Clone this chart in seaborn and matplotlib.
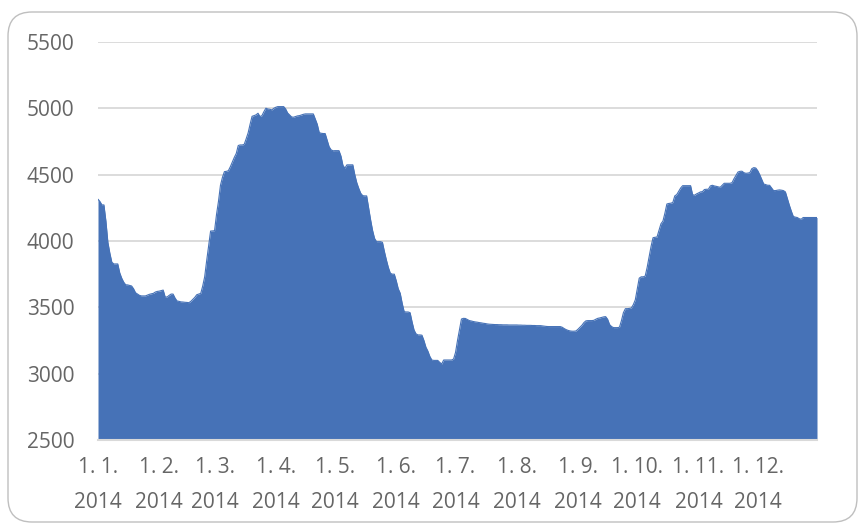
import numpy as np
import pandas as pd
import matplotlib
matplotlib.use("Agg")
import matplotlib.pyplot as plt
import seaborn as sns
from matplotlib.patches import FancyBboxPatch
from matplotlib.transforms import IdentityTransform

# daily values (2014)
jan = [4315, 4297, 4272, 4272, 4150, 3990, 3908, 3840, 3827, 3827, 3827, 3760, 3720, 3690, 3670, 3669,
       3665, 3661, 3640, 3610, 3600, 3590, 3586, 3586, 3586, 3592, 3598, 3602, 3605, 3615, 3620]
feb = [3622, 3626, 3630, 3578, 3578, 3590, 3600, 3600, 3570, 3548, 3545, 3541, 3540, 3538, 3537, 3535,
       3545, 3560, 3575, 3595, 3600, 3605, 3660, 3730, 3850, 3960, 4075, 4076]
mar = [4078, 4200, 4300, 4420, 4480, 4523, 4525, 4530, 4560, 4595, 4630, 4660, 4720, 4724, 4724, 4728,
       4770, 4815, 4880, 4940, 4945, 4951, 4963, 4938, 4945, 4975, 5001, 4995, 4993, 4988, 5000]
apr = [5008, 5013, 5013, 5013, 5013, 4995, 4965, 4950, 4935, 4933, 4938, 4943, 4945, 4950, 4955, 4958,
       4958, 4958, 4958, 4958, 4920, 4880, 4817, 4812, 4810, 4810, 4760, 4711, 4687, 4680]
may = [4681, 4681, 4681, 4640, 4570, 4549, 4574, 4574, 4574, 4574, 4500, 4440, 4397, 4360, 4342, 4340,
       4340, 4250, 4160, 4080, 4020, 3995, 3995, 3995, 3990, 3920, 3857, 3800, 3757, 3750, 3750]
jun = [3700, 3640, 3606, 3530, 3467, 3465, 3465, 3460, 3390, 3329, 3300, 3292, 3292, 3290, 3250, 3200,
       3170, 3130, 3103, 3100, 3100, 3100, 3085, 3073, 3103, 3103, 3103, 3103, 3103, 3110]
jul = [3160, 3250, 3330, 3412, 3417, 3416, 3408, 3400, 3397, 3393, 3390, 3388, 3385, 3383, 3380, 3378,
       3375, 3373, 3372, 3371, 3370, 3370, 3369, 3369, 3368, 3368, 3368, 3367, 3367, 3367, 3367]
aug = [3367, 3366, 3366, 3365, 3365, 3364, 3364, 3364, 3363, 3363, 3362, 3362, 3362, 3360, 3358, 3356,
       3355, 3355, 3355, 3355, 3355, 3355, 3355, 3350, 3340, 3332, 3326, 3322, 3320, 3320, 3322]
sep = [3335, 3350, 3365, 3385, 3398, 3400, 3400, 3400, 3402, 3410, 3417, 3420, 3424, 3428, 3430, 3410,
       3370, 3355, 3347, 3347, 3347, 3350, 3400, 3460, 3490, 3490, 3492, 3495, 3520, 3556]
oct_ = [3640, 3720, 3730, 3730, 3735, 3800, 3880, 3960, 4025, 4028, 4030, 4080, 4130, 4150, 4210, 4279,
        4283, 4285, 4290, 4340, 4350, 4375, 4400, 4417, 4417, 4417, 4417, 4417, 4350, 4345, 4355]
nov = [4362, 4370, 4372, 4388, 4390, 4390, 4415, 4420, 4415, 4412, 4408, 4405, 4420, 4435, 4435, 4435,
       4435, 4440, 4470, 4495, 4520, 4525, 4526, 4515, 4510, 4512, 4515, 4545, 4553, 4550]
dec = [4530, 4500, 4465, 4430, 4425, 4420, 4420, 4400, 4380, 4380, 4383, 4385, 4383, 4380, 4370, 4320,
       4270, 4225, 4185, 4180, 4177, 4168, 4164, 4177, 4177, 4177, 4177, 4177, 4177, 4177, 4177]

tick_labels = ["1. 1.\n2014", "1. 2.\n2014", "1. 3.\n2014", "1. 4.\n2014", "1. 5.\n2014", "1. 6.\n2014",
               "1. 7.\n2014", "1. 8.\n2014", "1. 9.\n2014", "1. 10.\n2014", "1. 11.\n2014", "1. 12.\n2014"]
y_ticks = [2500, 3000, 3500, 4000, 4500, 5000, 5500]

values = jan + feb + mar + apr + may + jun + jul + aug + sep + oct_ + nov + dec
dates = pd.date_range("2014-01-01", periods=len(values), freq="D")
df = pd.DataFrame({"day": np.arange(len(values)), "value": values})
month_starts = [d for d in range(len(values)) if dates[d].day == 1]

sns.set_theme(style="white")
plt.rcParams["font.family"] = ["Open Sans", "DejaVu Sans"]

fig = plt.figure(figsize=(8.6, 5.24), dpi=100)
ax = fig.add_axes([98 / 860, 1 - 440 / 524, (817 - 98) / 860, (440 - 42) / 524])

color = "#4672B7"
sns.lineplot(data=df, x="day", y="value", ax=ax, color=color, linewidth=0.8)
ax.fill_between(df["day"], df["value"], 2500, color=color, linewidth=0)

ax.set_xlim(0, len(values) - 1)
ax.set_ylim(2500, 5500)
ax.set_yticks(y_ticks)
ax.set_yticklabels([str(v) for v in y_ticks])
ax.set_xticks(month_starts)
ax.set_xticklabels(tick_labels, linespacing=1.85)
ax.set_xlabel("")
ax.set_ylabel("")

ax.grid(axis="y", color="#d9d9d9", linewidth=1.3)
ax.set_axisbelow(True)
for s in ["top", "right", "left"]:
    ax.spines[s].set_visible(False)
ax.spines["bottom"].set_color("#d9d9d9")
ax.spines["bottom"].set_linewidth(1.5)
ax.spines["bottom"].set_zorder(5)

ax.tick_params(axis="x", direction="inout", length=11, width=1.2, color="#d9d9d9",
               labelsize=15, labelcolor="#666666", pad=7)
ax.tick_params(axis="y", length=0, labelsize=15, labelcolor="#666666", pad=17)

border = FancyBboxPatch((8, 2), 849, 510, boxstyle="round,pad=0,rounding_size=24",
                        transform=IdentityTransform(), facecolor="none",
                        edgecolor="#bfbfbf", linewidth=1.0)
fig.patches.append(border)

fig.savefig("out.png", dpi=100)
